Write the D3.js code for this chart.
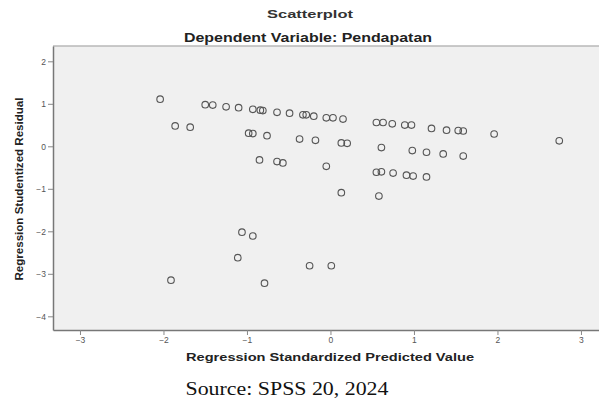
<!DOCTYPE html>
<html>
<head>
<meta charset="utf-8">
<script src="https://cdn.jsdelivr.net/npm/d3@7"></script>
<style>
  body { margin: 0; background: #fff; }
  svg { display: block; }
</style>
</head>
<body>
<svg id="chart" width="599" height="410"></svg>
<script>
// Regression standardized predicted value (x) and studentized residual (y)
const predicted = [
  -2.04, -1.86, -1.68, -1.50, -1.41, -1.25, -1.10, -0.93, -0.84, -0.81,
  -0.64, -0.49, -0.33, -0.29, -0.20, -0.05, 0.03, 0.15, 0.55, 0.63,
  0.74, 0.89, 0.97, 1.21, 1.39, 1.53, 1.59, 1.96, 2.74,
  -0.98, -0.93, -0.76, -0.37, -0.18, 0.13, 0.20, 0.61, 0.98, 1.15, 1.35, 1.59,
  -0.85, -0.64, -0.57, -0.05, 0.55, 0.61, 0.75, 0.91, 0.99, 1.15,
  0.13, 0.58, -1.06, -0.93, -1.11, -0.25, 0.01, -1.91, -0.79
];
const residual = [
  1.11, 0.48, 0.45, 0.98, 0.97, 0.93, 0.91, 0.87, 0.85, 0.84,
  0.80, 0.78, 0.74, 0.74, 0.71, 0.67, 0.67, 0.64, 0.56, 0.56,
  0.53, 0.50, 0.50, 0.42, 0.38, 0.37, 0.36, 0.29, 0.13,
  0.31, 0.30, 0.25, 0.17, 0.14, 0.08, 0.07, -0.03, -0.10, -0.14, -0.18, -0.23,
  -0.32, -0.36, -0.39, -0.47, -0.61, -0.60, -0.63, -0.68, -0.70, -0.72,
  -1.09, -1.17, -2.02, -2.11, -2.62, -2.81, -2.81, -3.15, -3.22
];
const xTicks = [-3, -2, -1, 0, 1, 2, 3];
const yTicks = [2, 1, 0, -1, -2, -3, -4];

const svg = d3.select('#chart');
const plot = { left: 53, right: 599, top: 46, bottom: 330 };
const SANS = 'Liberation Sans, Arial, sans-serif';

// Scales tuned so 0 sits where the reference draws it
const x = d3.scaleLinear().domain([-3.323, 3.216]).range([plot.left, plot.right]);
const y = d3.scaleLinear().domain([-4.322, 2.36]).range([plot.bottom, plot.top]);

// Plot background
svg.append('rect')
  .attr('x', plot.left).attr('y', plot.top)
  .attr('width', plot.right - plot.left).attr('height', plot.bottom - plot.top)
  .attr('fill', '#f0f0f0');
svg.append('line')
  .attr('x1', plot.left).attr('x2', plot.right)
  .attr('y1', plot.top).attr('y2', plot.top)
  .attr('stroke', '#b8b8b8').attr('stroke-width', 1.5);

// Text helper: the reference image is stretched sideways, so fix each span
function label(txt, cx, cy, size, len, opts = {}) {
  return svg.append('text')
    .attr('transform', `translate(${cx},${cy})` + (opts.rotate ? ' rotate(-90)' : ''))
    .attr('text-anchor', 'middle')
    .attr('font-family', opts.family || SANS)
    .attr('font-weight', opts.weight || 'bold')
    .attr('font-size', size)
    .attr('fill', opts.fill || '#222')
    .attr('textLength', len)
    .attr('lengthAdjust', 'spacingAndGlyphs')
    .text(txt);
}

// Titles
label('Scatterplot', 310, 18, 11, 86, { fill: '#333' });
label('Dependent Variable: Pendapatan', 308, 42, 12, 248);

// Axes
const xAxis = svg.append('g')
  .attr('transform', `translate(0,${plot.bottom})`)
  .call(d3.axisBottom(x).tickValues(xTicks).tickSize(5).tickSizeOuter(0).tickFormat(d3.format('d')));
const yAxis = svg.append('g')
  .attr('transform', `translate(${plot.left},0)`)
  .call(d3.axisLeft(y).tickValues(yTicks).tickSize(5).tickSizeOuter(0).tickFormat(d3.format('d')));

[xAxis, yAxis].forEach(g => {
  g.select('.domain').attr('stroke', '#777').attr('stroke-width', 1.5);
  g.selectAll('.tick line').attr('stroke', '#888');
  g.selectAll('.tick text')
    .attr('fill', '#555')
    .attr('font-family', SANS)
    .attr('font-size', 8.5);
});
yAxis.selectAll('.tick text').attr('x', -7);
xAxis.selectAll('.tick text').attr('y', 7);

// Axis titles
label('Regression Standardized Predicted Value', 330, 361, 11, 288);
label('Regression Studentized Residual', 23, 189, 10, 183, { rotate: true });

// Points
svg.append('g')
  .selectAll('circle')
  .data(d3.range(predicted.length))
  .join('circle')
  .attr('cx', i => x(predicted[i]))
  .attr('cy', i => y(residual[i]))
  .attr('r', 3.3)
  .attr('fill', 'none')
  .attr('stroke', '#555')
  .attr('stroke-width', 1.1);

// Source note
label('Source: SPSS 20, 2024', 287, 395, 18, 203,
  { family: 'Liberation Serif, Times New Roman, serif', weight: 'normal', fill: '#111' });
</script>
</body>
</html>
